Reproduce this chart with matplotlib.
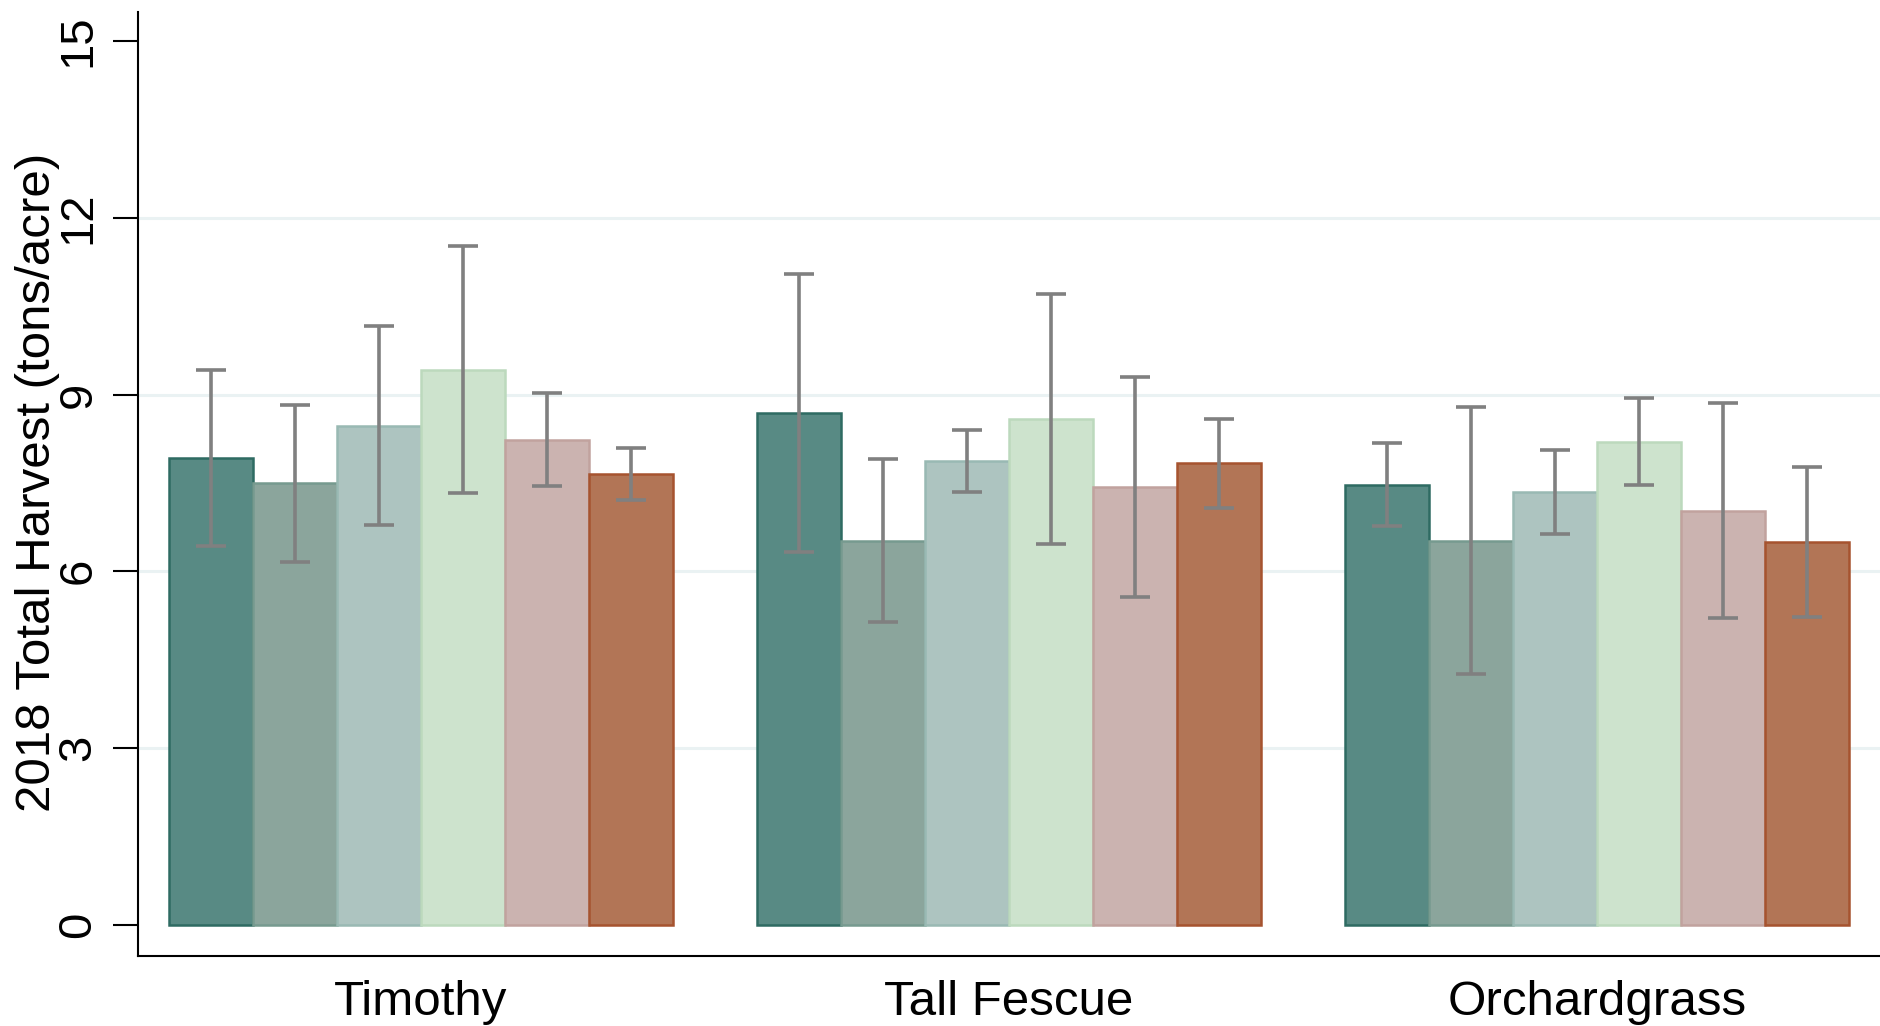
import matplotlib
matplotlib.use("Agg")
import matplotlib.pyplot as plt
import numpy as np

plt.rcParams["font.family"] = ["Liberation Sans", "DejaVu Sans"]

# ---- data ----
grasses = ["Timothy", "Tall Fescue", "Orchardgrass"]
# six treatments per grass, mean harvest (tons/acre)
means = [
    [7.92, 7.49, 8.47, 9.42, 8.23, 7.65],   # Timothy
    [8.69, 6.52, 7.87, 8.58, 7.43, 7.83],   # Tall Fescue
    [7.47, 6.52, 7.34, 8.20, 7.03, 6.50],   # Orchardgrass
]
# half-width of the error bars
errs = [
    [1.50, 1.34, 1.69, 2.10, 0.79, 0.44],
    [2.36, 1.39, 0.53, 2.12, 1.87, 0.75],
    [0.70, 2.27, 0.71, 0.74, 1.82, 1.27],
]
yticks = [0, 3, 6, 9, 12, 15]
grid_at = [3, 6, 9, 12]

fills = ["#588a84", "#8ba59c", "#adc4c0", "#cde3cd", "#cbb3b0", "#b27556"]
edges = ["#2e6b62", "#769a8f", "#99b9b3", "#bcd9bd", "#c1a29e", "#a6532f"]

GAP = 1.0  # gap between groups in bar widths
fig = plt.figure(figsize=(18.8, 10.26), dpi=100)
ax = fig.add_axes([0.0734, 0.0682, 1 - 0.0734, 0.988 - 0.0682])

for y in grid_at:
    ax.axhline(y, color="#eaf2f3", lw=2.2, zorder=0)

centers = []
for g, name in enumerate(grasses):
    x0 = g * (6 + GAP)
    centers.append(x0 + 3)
    for i in range(6):
        xc = x0 + i + 0.5
        ax.bar(xc, means[g][i], width=1.0, color=fills[i], edgecolor=edges[i],
               lw=1.8, zorder=2)
        ax.errorbar(xc, means[g][i], yerr=errs[g][i], fmt="none", ecolor="#808080",
                    elinewidth=2.6, capsize=11, capthick=2.6, zorder=3)

ax.set_xlim(-0.37, 20.37)
ax.set_ylim(-0.535, 15.49)
ax.set_yticks(yticks)
ax.set_yticklabels([str(t) for t in yticks], rotation=90, va="center", fontsize=34)
ax.tick_params(axis="y", length=18, width=1.5, pad=9)
ax.set_xticks(centers)
ax.set_xticklabels(grasses, fontsize=35.5)
ax.tick_params(axis="x", length=0, pad=17)
ax.set_ylabel("2018 Total Harvest (tons/acre)", fontsize=35.5)
ax.yaxis.set_label_coords(-0.045, 0.502)

for s in ["top", "right"]:
    ax.spines[s].set_visible(False)
for s in ["left", "bottom"]:
    ax.spines[s].set_linewidth(1.5)

fig.savefig("out.png", dpi=100)
